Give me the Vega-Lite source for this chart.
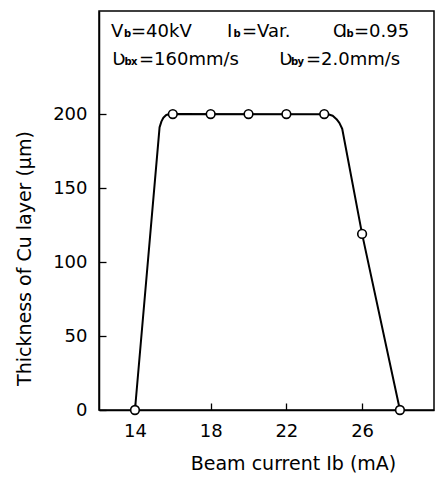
{
  "$schema": "https://vega.github.io/schema/vega-lite/v6.json",
  "width": 335,
  "height": 399,
  "autosize": {"type": "none"},
  "padding": {"left": 99, "top": 11, "right": 1, "bottom": 67},
  "background": "white",
  "config": {
    "font": "DejaVu Sans",
    "view": {"stroke": "black", "strokeWidth": 1.5},
    "axis": {"grid": false, "domainColor": "black", "tickColor": "black", "labelColor": "black", "titleColor": "black", "labelFont": "DejaVu Sans", "titleFont": "DejaVu Sans", "labelFontSize": 18, "titleFontSize": 19, "titleFontWeight": "normal", "tickSize": -7, "tickWidth": 1.3, "domainWidth": 1.5}
  },
  "datasets": {
    "points": [
      {"I": 14, "t": 0}, {"I": 16, "t": 200}, {"I": 18, "t": 200}, {"I": 20, "t": 200},
      {"I": 22, "t": 200}, {"I": 24, "t": 200}, {"I": 26, "t": 119}, {"I": 28, "t": 0}
    ],
    "curve": [
      {"I": 14, "t": 0}, {"I": 15.3, "t": 191}, {"I": 15.4, "t": 195}, {"I": 15.5, "t": 197.5},
      {"I": 15.65, "t": 199.3}, {"I": 15.85, "t": 200}, {"I": 24.2, "t": 199.8}, {"I": 24.45, "t": 198.8},
      {"I": 24.65, "t": 196.5}, {"I": 24.8, "t": 194}, {"I": 24.95, "t": 190}, {"I": 26, "t": 119}, {"I": 28, "t": 0}
    ],
    "header": [
      {"x": 12.732, "y": 252, "s": "V"}, {"x": 13.789, "y": 252, "s": "=40kV"},
      {"x": 18.86, "y": 252, "s": "I"}, {"x": 19.652, "y": 252, "s": "=Var."},
      {"x": 24.46, "y": 252, "s": "Ɑ"}, {"x": 25.569, "y": 252, "s": "=0.95"},
      {"x": 12.8, "y": 233, "s": "Ʋ"}, {"x": 14.211, "y": 233, "s": "=160mm/s"},
      {"x": 21.62, "y": 233, "s": "Ʋ"}, {"x": 23.033, "y": 233, "s": "=2.0mm/s"}
    ],
    "subs": [
      {"x": 13.419, "y": 252, "s": "b"}, {"x": 19.203, "y": 252, "s": "b"}, {"x": 25.173, "y": 252, "s": "b"},
      {"x": 13.445, "y": 233, "s": "b"}, {"x": 13.789, "y": 233, "s": "x"},
      {"x": 22.241, "y": 233, "s": "b"}, {"x": 22.584, "y": 233, "s": "y"}
    ]
  },
  "layer": [
    {
      "data": {"name": "curve"},
      "mark": {"type": "line", "interpolate": "linear", "color": "black", "strokeWidth": 2, "strokeJoin": "round"},
      "encoding": {
        "x": {"field": "I", "type": "quantitative",
          "scale": {"domain": [12.1, 29.8], "nice": false, "zero": false},
          "axis": {"values": [14, 18, 22, 26], "title": "Beam current Ib (mA)", "labelPadding": 19, "titleX": 194, "titleY": 53, "titleBaseline": "middle"}},
        "y": {"field": "t", "type": "quantitative",
          "scale": {"domain": [0, 269.6], "nice": false},
          "axis": {"values": [0, 50, 100, 150, 200], "title": "Thickness of Cu layer (μm)", "labelPadding": 19, "titleX": -75, "titleY": 247, "titleBaseline": "middle"}}
      }
    },
    {
      "data": {"name": "points"},
      "mark": {"type": "point", "shape": "circle", "filled": true, "fill": "white", "stroke": "black", "strokeWidth": 1.6, "size": 75, "opacity": 1},
      "encoding": {
        "x": {"field": "I", "type": "quantitative"},
        "y": {"field": "t", "type": "quantitative"}
      }
    },
    {
      "mark": {"type": "rule", "color": "black", "strokeWidth": 1.5},
      "encoding": {"y": {"datum": 223, "type": "quantitative"}}
    },
    {
      "data": {"name": "header"},
      "mark": {"type": "text", "align": "left", "baseline": "alphabetic", "fontSize": 18, "color": "black"},
      "encoding": {
        "x": {"field": "x", "type": "quantitative"},
        "y": {"field": "y", "type": "quantitative"},
        "text": {"field": "s"}
      }
    },
    {
      "data": {"name": "subs"},
      "mark": {"type": "text", "align": "left", "baseline": "alphabetic", "fontSize": 10, "fontWeight": "bold", "color": "black"},
      "encoding": {
        "x": {"field": "x", "type": "quantitative"},
        "y": {"field": "y", "type": "quantitative"},
        "text": {"field": "s"}
      }
    }
  ]
}
